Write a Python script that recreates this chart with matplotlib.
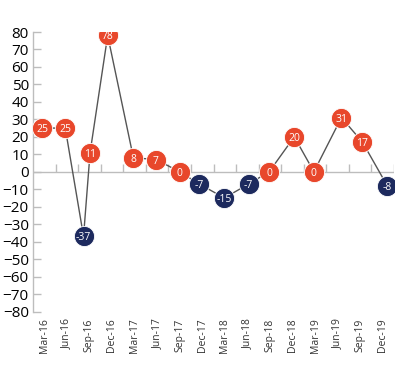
import matplotlib.pyplot as plt

# --- data ---
quarters = ['Mar-16', 'Jun-16', 'Sep-16', 'Dec-16', 'Mar-17', 'Jun-17', 'Sep-17', 'Dec-17',
            'Mar-18', 'Jun-18', 'Sep-18', 'Dec-18', 'Mar-19', 'Jun-19', 'Sep-19', 'Dec-19']
# point positions in category units (points sit on a date axis, not exactly on centres)
x_pos = [-0.09, 0.93, 1.74, 2.03, 2.81, 3.95, 4.95, 6.0, 6.87, 7.98, 9.06, 9.97, 11.08,
         11.95, 13.17, 14.1, 15.2]
values = [25, 25, -37, 11, 78, 8, 7, 0, -7, -15, -7, 0, 20, 0, 31, 17, -8]

POS_COLOR = '#E8472B'
NEG_COLOR = '#1D2A5E'
GRID_GRAY = '#BDBDBD'

plt.rcParams['font.family'] = ['Open Sans', 'DejaVu Sans']

fig = plt.figure(figsize=(4.11, 3.71), dpi=100)
ax = fig.add_axes([33 / 411, 1 - 311.5 / 371, (394 - 33) / 411, (311.5 - 32) / 371])

ax.set_xlim(-0.5, len(quarters) - 0.5)
ax.set_ylim(-80, 80)

# zero line with small upward ticks at category boundaries
ax.axhline(0, color=GRID_GRAY, lw=1, zorder=1)
bounds = [i + 0.5 for i in range(-1, len(quarters))]
ax.vlines(bounds[1:], 0, 4.5, color=GRID_GRAY, lw=1, zorder=1)

# connecting line
ax.plot(x_pos, values, color='#555555', lw=1, zorder=2)

# coloured bubbles with value labels
for x, v in zip(x_pos, values):
    c = NEG_COLOR if v < 0 else POS_COLOR
    ax.plot(x, v, 'o', ms=14.5, color=c, mec='white', mew=0.6, zorder=3)
    ax.text(x, v, str(v), color='white', fontsize=7.5, ha='center',
            va='center_baseline', zorder=4)

# axes styling
for s in ['top', 'right', 'bottom']:
    ax.spines[s].set_visible(False)
ax.spines['left'].set_color(GRID_GRAY)
ax.spines['left'].set_linewidth(1)

ax.set_yticks(range(-80, 81, 10))
ax.tick_params(axis='y', direction='in', length=6, width=1, color=GRID_GRAY,
               labelsize=11, labelcolor='black', pad=3)

ax.set_xticks(range(len(quarters)))
ax.set_xticklabels(quarters, rotation=90, fontsize=7.5, color='#333333')
ax.tick_params(axis='x', length=0, pad=5)

fig.savefig('out.png', dpi=100)
